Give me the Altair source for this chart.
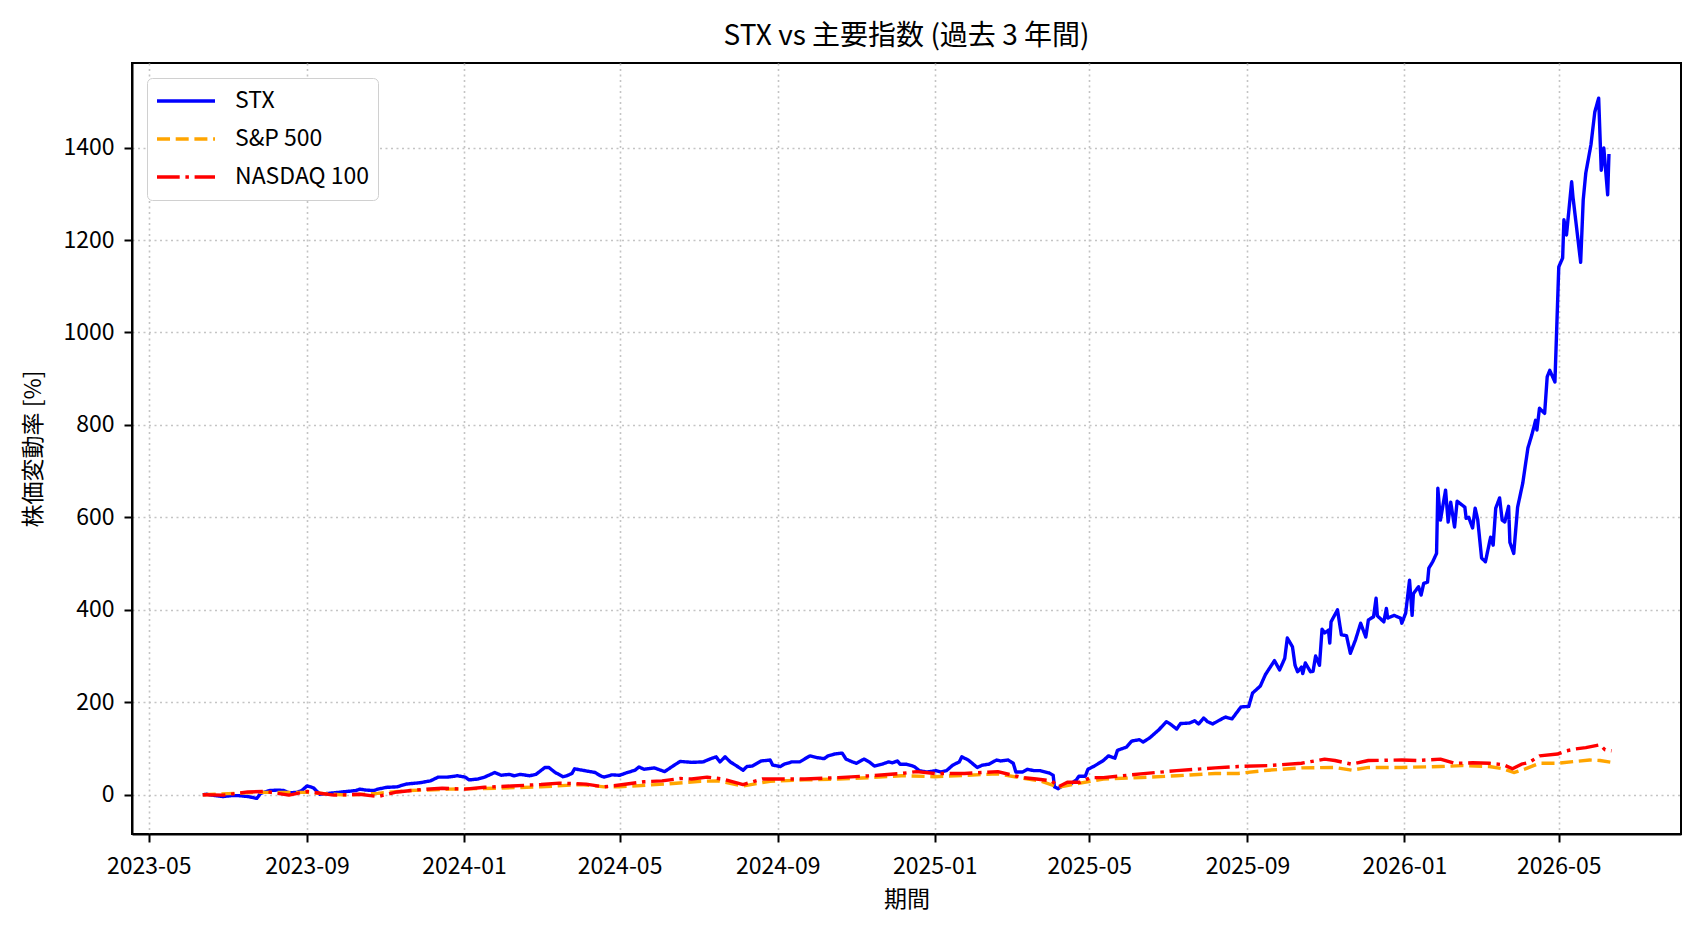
import altair as alt
import pandas as pd

FONT = "Noto Sans CJK JP"

series_names = ["STX", "S&P 500", "NASDAQ 100"]
series_colors = ["#0000ff", "#ffa500", "#ff0000"]
series_dashes = [[1, 0], [13, 5.7], [22.7, 5.7, 3.5, 5.7]]

stx_dates = [
    "2023-06-12", "2023-06-15", "2023-06-22", "2023-06-28", "2023-07-04", "2023-07-10", "2023-07-17",
    "2023-07-21", "2023-07-24", "2023-07-27", "2023-08-03", "2023-08-09", "2023-08-14", "2023-08-18",
    "2023-08-24", "2023-08-28", "2023-09-01", "2023-09-06", "2023-09-11", "2023-09-18", "2023-09-25",
    "2023-10-02", "2023-10-09", "2023-10-12", "2023-10-17", "2023-10-23", "2023-10-26", "2023-11-02",
    "2023-11-10", "2023-11-17", "2023-11-28", "2023-12-06", "2023-12-12", "2023-12-19", "2023-12-27",
    "2024-01-02", "2024-01-05", "2024-01-12", "2024-01-17", "2024-01-25", "2024-01-30", "2024-02-05",
    "2024-02-09", "2024-02-14", "2024-02-21", "2024-02-26", "2024-03-04", "2024-03-07", "2024-03-12",
    "2024-03-18", "2024-03-21", "2024-03-25", "2024-03-27", "2024-04-04", "2024-04-12", "2024-04-16",
    "2024-04-19", "2024-04-25", "2024-05-01", "2024-05-07", "2024-05-13", "2024-05-16", "2024-05-20",
    "2024-05-28", "2024-06-05", "2024-06-12", "2024-06-17", "2024-06-26", "2024-07-05", "2024-07-10",
    "2024-07-15", "2024-07-18", "2024-07-22", "2024-07-26", "2024-07-30", "2024-08-05", "2024-08-08",
    "2024-08-12", "2024-08-19", "2024-08-26", "2024-08-28", "2024-09-03", "2024-09-06", "2024-09-12",
    "2024-09-18", "2024-09-26", "2024-10-02", "2024-10-07", "2024-10-10", "2024-10-15", "2024-10-21",
    "2024-10-24", "2024-10-29", "2024-11-01", "2024-11-07", "2024-11-11", "2024-11-15", "2024-11-21",
    "2024-11-26", "2024-11-29", "2024-12-03", "2024-12-05", "2024-12-10", "2024-12-16", "2024-12-20",
    "2024-12-26", "2025-01-02", "2025-01-06", "2025-01-10", "2025-01-15", "2025-01-20", "2025-01-22",
    "2025-01-27", "2025-02-03", "2025-02-07", "2025-02-12", "2025-02-18", "2025-02-21", "2025-02-27",
    "2025-03-03", "2025-03-05", "2025-03-10", "2025-03-14", "2025-03-19", "2025-03-24", "2025-03-31",
    "2025-04-03", "2025-04-04", "2025-04-07", "2025-04-11", "2025-04-17", "2025-04-21", "2025-04-23",
    "2025-04-28", "2025-04-30", "2025-05-05", "2025-05-12", "2025-05-16", "2025-05-21", "2025-05-23",
    "2025-05-28", "2025-05-30", "2025-06-03", "2025-06-09", "2025-06-12", "2025-06-17", "2025-06-24",
    "2025-06-30", "2025-07-03", "2025-07-08", "2025-07-11", "2025-07-18", "2025-07-22", "2025-07-25",
    "2025-07-29", "2025-08-01", "2025-08-05", "2025-08-12", "2025-08-15", "2025-08-20", "2025-08-27",
    "2025-09-02", "2025-09-05", "2025-09-11", "2025-09-15", "2025-09-22", "2025-09-26", "2025-09-30",
    "2025-10-02", "2025-10-06", "2025-10-08", "2025-10-10", "2025-10-13", "2025-10-14", "2025-10-16",
    "2025-10-20", "2025-10-22", "2025-10-24", "2025-10-27", "2025-10-29", "2025-10-31", "2025-11-03",
    "2025-11-04", "2025-11-05", "2025-11-10", "2025-11-13", "2025-11-17", "2025-11-20", "2025-11-24",
    "2025-11-28", "2025-12-02", "2025-12-04", "2025-12-08", "2025-12-10", "2025-12-11", "2025-12-16",
    "2025-12-18", "2025-12-19", "2025-12-24", "2025-12-29", "2025-12-30", "2026-01-02", "2026-01-05",
    "2026-01-07", "2026-01-08", "2026-01-12", "2026-01-14", "2026-01-16", "2026-01-19", "2026-01-20",
    "2026-01-23", "2026-01-26", "2026-01-27", "2026-01-29", "2026-02-02", "2026-02-04", "2026-02-06",
    "2026-02-09", "2026-02-11", "2026-02-17", "2026-02-18", "2026-02-20", "2026-02-23", "2026-02-25",
    "2026-02-27", "2026-03-02", "2026-03-05", "2026-03-09", "2026-03-11", "2026-03-13", "2026-03-16",
    "2026-03-18", "2026-03-20", "2026-03-23", "2026-03-24", "2026-03-27", "2026-03-30", "2026-04-03",
    "2026-04-07", "2026-04-10", "2026-04-13", "2026-04-14", "2026-04-16", "2026-04-20", "2026-04-22",
    "2026-04-24", "2026-04-28", "2026-05-01", "2026-05-04", "2026-05-05", "2026-05-07", "2026-05-11",
    "2026-05-12", "2026-05-18", "2026-05-20", "2026-05-22", "2026-05-26", "2026-05-29", "2026-06-01",
    "2026-06-03", "2026-06-05", "2026-06-08", "2026-06-09",
]
stx_values = [
    0, 1, -2, -4, -2, -2, -4,
    -6, -8, 3, 9, 10, 9, 4,
    5, 9, 19, 15, 1, 3, 5,
    7, 9, 12, 10, 9, 12, 16,
    17, 23, 26, 30, 38, 38, 41,
    38, 32, 34, 38, 48, 42, 44,
    41, 44, 41, 44, 59, 59, 48,
    39, 41, 46, 56, 52, 48, 41,
    38, 43, 42, 48, 53, 60, 55,
    58, 50, 63, 72, 70, 71, 77,
    82, 71, 82, 71, 64, 53, 61,
    62, 73, 75, 64, 61, 66, 71,
    71, 84, 80, 78, 84, 88, 90,
    77, 71, 68, 77, 71, 62, 66,
    71, 69, 73, 66, 66, 61, 52,
    49, 52, 49, 52, 64, 71, 82,
    75, 59, 64, 66, 75, 73, 75,
    68, 49, 49, 55, 52, 52, 47,
    42, 17, 13, 21, 24, 32, 40,
    40, 55, 62, 74, 84, 79, 96,
    101, 103, 116, 119, 114, 123, 140,
    158, 153, 142, 154, 155, 160, 153,
    166, 158, 153, 164, 168, 164, 190,
    191, 220, 235, 260, 290, 270, 295,
    339, 320, 280, 266, 276, 262, 285,
    266, 267, 300, 280, 358, 350, 356,
    328, 374, 400, 346, 344, 306, 335,
    371, 341, 378, 385, 425, 387, 374,
    403, 382, 388, 382, 371, 393, 464,
    388, 435, 450, 432, 457, 460, 490,
    504, 522, 663, 594, 659, 590, 633,
    579, 635, 622, 598, 600, 577, 620,
    595, 512, 504, 557, 540, 620, 642,
    594, 590, 624, 546, 522, 622, 674,
    750, 778, 810, 789, 836, 825, 904,
    918, 893, 1142, 1161, 1244, 1211, 1326,
    1294, 1152, 1287, 1345, 1406, 1477, 1507,
    1351, 1399, 1298, 1386,
]

sp_dates = [
    "2023-06-12", "2023-07-24", "2023-09-01", "2023-10-02", "2023-10-26", "2023-11-20", "2023-12-20",
    "2024-01-25", "2024-03-01", "2024-04-01", "2024-04-19", "2024-05-01", "2024-06-05", "2024-07-03",
    "2024-07-16", "2024-08-05", "2024-08-26", "2024-09-22", "2024-10-18", "2024-11-12", "2024-12-06",
    "2025-01-01", "2025-02-19", "2025-03-10", "2025-03-24", "2025-04-07", "2025-04-24", "2025-05-12",
    "2025-06-10", "2025-07-08", "2025-08-07", "2025-08-25", "2025-09-17", "2025-10-13", "2025-11-08",
    "2025-11-21", "2025-12-04", "2025-12-30", "2026-01-29", "2026-02-15", "2026-03-08", "2026-03-19",
    "2026-03-27", "2026-04-05", "2026-04-16", "2026-04-30", "2026-05-14", "2026-05-25", "2026-06-02",
    "2026-06-11",
]
sp_values = [
    0, 5, 5, -1, 3, 9, 12,
    14, 17, 22, 17, 17, 23, 29,
    30, 19, 29, 32, 34, 37, 41,
    39, 45, 36, 30, 16, 25, 34,
    37, 41, 46, 46, 53, 58, 59,
    53, 59, 59, 61, 63, 61, 56,
    48, 56, 68, 68, 72, 75, 74,
    70,
]

nq_dates = [
    "2023-06-12", "2023-06-28", "2023-07-17", "2023-07-31", "2023-08-18", "2023-09-01", "2023-09-22",
    "2023-10-12", "2023-10-26", "2023-11-10", "2023-11-28", "2023-12-15", "2024-01-02", "2024-01-17",
    "2024-02-07", "2024-03-01", "2024-03-15", "2024-04-05", "2024-04-19", "2024-05-01", "2024-05-20",
    "2024-06-03", "2024-06-17", "2024-06-26", "2024-07-08", "2024-07-20", "2024-08-05", "2024-08-20",
    "2024-09-22", "2024-10-18", "2024-11-12", "2024-12-06", "2024-12-18", "2025-01-01", "2025-01-24",
    "2025-02-19", "2025-03-10", "2025-03-21", "2025-04-02", "2025-04-07", "2025-04-14", "2025-04-24",
    "2025-05-02", "2025-05-12", "2025-06-10", "2025-07-08", "2025-08-07", "2025-08-25", "2025-09-17",
    "2025-10-13", "2025-10-31", "2025-11-08", "2025-11-21", "2025-12-04", "2025-12-30", "2026-01-12",
    "2026-01-29", "2026-02-09", "2026-02-23", "2026-03-08", "2026-03-19", "2026-03-26", "2026-04-02",
    "2026-04-08", "2026-04-16", "2026-04-30", "2026-05-07", "2026-05-14", "2026-05-22", "2026-06-02",
    "2026-06-06", "2026-06-11",
]
nq_values = [
    0, -1, 6, 7, -1, 7, -1,
    1, -4, 6, 11, 14, 12, 16,
    19, 22, 25, 23, 17, 21, 28,
    30, 35, 34, 38, 34, 22, 34,
    34, 37, 41, 46, 50, 46, 46,
    50, 37, 34, 30, 17, 27, 27,
    37, 37, 45, 52, 58, 61, 63,
    68, 77, 74, 66, 74, 75, 74,
    77, 68, 69, 68, 65, 56, 66,
    70, 84, 88, 95, 99, 102, 108,
    97, 95,
]

rows = []
for name, dates, vals in [
    ("STX", stx_dates, stx_values),
    ("S&P 500", sp_dates, sp_values),
    ("NASDAQ 100", nq_dates, nq_values),
]:
    for d, v in zip(dates, vals):
        rows.append({"date": d, "value": v, "series": name})
df = pd.DataFrame(rows)

tick_months = [(2023, 5), (2023, 9), (2024, 1), (2024, 5), (2024, 9), (2025, 1),
               (2025, 5), (2025, 9), (2026, 1), (2026, 5)]
x_ticks = [alt.DateTime(year=y, month=m, date=1, utc=True) for y, m in tick_months]
y_ticks = [0, 200, 400, 600, 800, 1000, 1200, 1400]

legend_kw = dict(
    title=None, orient="none", legendX=15, legendY=15,
    symbolType="stroke", symbolSize=3364, symbolStrokeWidth=3.4,
    clipHeight=30, rowPadding=8, labelOffset=18,
    labelFont=FONT, labelFontSize=23, labelColor="#000000",
    padding=8, fillColor="#ffffff", strokeColor="#d0d0d0",
    cornerRadius=5, symbolOpacity=1,
)

chart = alt.Chart(df).mark_line(strokeWidth=3.4, strokeJoin="round").encode(
    x=alt.X(
        "date:T",
        scale=alt.Scale(
            type="utc",
            domain=[alt.DateTime(year=2023, month=4, date=18, utc=True),
                    alt.DateTime(year=2026, month=8, date=4, utc=True)],
        ),
        axis=alt.Axis(
            title="期間", values=x_ticks, format="%Y-%m", labelAngle=0,
            titlePadding=10, labelPadding=13,
        ),
    ),
    y=alt.Y(
        "value:Q",
        scale=alt.Scale(domain=[-85, 1583], nice=False, zero=False),
        axis=alt.Axis(title="株価変動率 [%]", values=y_ticks, format="d",
                      titlePadding=17, labelPadding=10),
    ),
    color=alt.Color(
        "series:N",
        scale=alt.Scale(domain=series_names, range=series_colors),
        sort=series_names,
        legend=alt.Legend(**legend_kw),
    ),
    strokeDash=alt.StrokeDash(
        "series:N",
        scale=alt.Scale(domain=series_names, range=series_dashes),
        sort=series_names,
        legend=alt.Legend(**legend_kw),
    ),
).properties(
    width=1549,
    height=771,
    autosize=alt.AutoSizeParams(type="none"),
    padding={"left": 132, "top": 63, "right": 21, "bottom": 98},
    background="#ffffff",
    title=alt.TitleParams(
        text="STX vs 主要指数 (過去 3 年間)", font=FONT, fontSize=28,
        fontWeight="normal", color="#000000", anchor="middle", offset=12,
    ),
).configure_view(
    stroke="#000000", strokeWidth=2,
).configure_axis(
    labelFont=FONT, titleFont=FONT, labelFontSize=23, titleFontSize=23,
    titleFontWeight="normal", labelColor="#000000", titleColor="#000000",
    domainColor="#000000", domainWidth=2, tickColor="#000000", tickWidth=2, tickSize=8,
    grid=True, gridColor="#c4c4c4", gridDash=[2, 3.5], gridWidth=1.6,
)

chart.save("out.html", embed_options={"renderer": "svg", "actions": False})
